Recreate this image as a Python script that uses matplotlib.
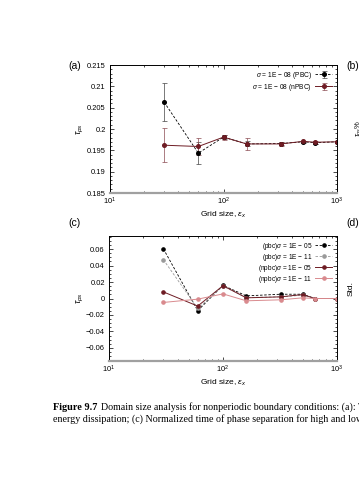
import matplotlib
matplotlib.use("Agg")
import matplotlib.pyplot as plt
from matplotlib.ticker import LogLocator, MultipleLocator, FixedLocator, NullFormatter
import numpy as np

plt.rcParams['font.family'] = ['Liberation Sans', 'DejaVu Sans']
plt.rcParams['mathtext.fontset'] = 'custom'
plt.rcParams['mathtext.rm'] = 'Liberation Sans'
plt.rcParams['mathtext.it'] = 'Liberation Sans:italic'

# ---- data ----
grid = [30, 60, 100, 160, 320, 500, 640, 1000]

# panel (a)
tau_pbc = [0.2063, 0.19435, 0.1981, 0.1965, 0.1966, 0.1970, 0.1968, 0.1970]
err_pbc = [0.0045, 0.0025, 0.0004, 0.0006, 0.0003, 0.0002, 0.0002, 0.0002]
tau_npbc = [0.1962, 0.1959, 0.1981, 0.1965, 0.1965, 0.1971, 0.1969, 0.1970]
err_npbc = [0.0040, 0.0020, 0.0006, 0.0015, 0.0004, 0.0002, 0.0003, 0.0002]

# panel (c)
pbc_e05 = [0.0604, -0.0148, 0.0160, 0.0032, 0.0052, 0.0052, 0.0, 0.0]
pbc_e11 = [0.0472, -0.0120, 0.0150, 0.0012, 0.0020, 0.0040, 0.0, 0.0]
npbc_e05 = [0.0080, -0.0092, 0.0156, 0.0008, 0.0020, 0.0048, 0.0, 0.0]
npbc_e11 = [-0.0048, -0.0008, 0.0056, -0.0028, -0.0016, 0.0008, 0.0, 0.0]

a_yticks = [0.185, 0.19, 0.195, 0.2, 0.205, 0.21, 0.215]
a_yticklabels = ['0.185', '0.19', '0.195', '0.2', '0.205', '0.21', '0.215']
c_yticks = [-0.06, -0.04, -0.02, 0, 0.02, 0.04, 0.06]
c_yticklabels = ['\u22120.06', '\u22120.04', '\u22120.02', '0', '0.02', '0.04', '0.06']

DARKRED = '#6e1c24'
PINK = '#d98a8e'
GRAY = '#9a9a9a'

W, H = 359, 480
fig = plt.figure(figsize=(W / 100, H / 100), dpi=100)


def px_axes(l, r, t, b):
    return fig.add_axes([l / W, 1 - b / H, (r - l) / W, (b - t) / H])


def style(ax):
    ax.set_xscale('log')
    ax.set_xlim(10, 1000)
    ax.tick_params(which='both', direction='in', top=True, right=True,
                   labelsize=5.4, pad=3)
    ax.tick_params(axis='x', pad=2)
    ax.tick_params(which='major', length=3, width=0.5)
    ax.tick_params(which='minor', length=1.6, width=0.5)
    ax.xaxis.set_major_locator(LogLocator(base=10, numticks=5))
    ax.xaxis.set_minor_locator(LogLocator(base=10, subs=np.arange(2, 10), numticks=20))
    ax.xaxis.set_minor_formatter(NullFormatter())
    for s in ['top', 'left', 'right']:
        ax.spines[s].set_linewidth(0.7)
    ax.spines['bottom'].set_color('#a0a0a0')
    ax.spines['bottom'].set_linewidth(1.6)
    ax.set_xlabel(r'Grid size, $\varepsilon_x$', fontsize=6, labelpad=2)


# ---- panel (a) ----
ax1 = px_axes(110, 337, 65, 193)
style(ax1)
ax1.set_ylim(0.185, 0.215)
ax1.yaxis.set_major_locator(FixedLocator(a_yticks))
ax1.set_yticklabels(a_yticklabels)
ax1.yaxis.set_minor_locator(MultipleLocator(0.001))
ax1.errorbar(grid, tau_pbc, yerr=err_pbc, color='black', ls=(0, (3, 2)), lw=0.6,
             marker='o', ms=2.6, capsize=1.8, elinewidth=0.5, capthick=0.5,
             ecolor='#444444', label=r'$\sigma$ = 1E $-$ 08 (PBC)')
ax1.errorbar(grid, tau_npbc, yerr=err_npbc, color=DARKRED, ls='-', lw=0.7,
             marker='o', ms=2.6, capsize=1.8, elinewidth=0.5, capthick=0.5,
             ecolor='#8a4a50', label=r'$\sigma$ = 1E $-$ 08 (nPBC)')
ax1.set_ylabel(r'$\tau_{ps}$', fontsize=6.5, labelpad=1)
ax1.legend(loc='upper right', fontsize=4.8, frameon=False, markerfirst=False,
           handlelength=2.6, borderaxespad=0.3, labelspacing=0.15,
           handletextpad=0.5)

# ---- panel (c) ----
ax2 = px_axes(109, 337, 236, 361)
style(ax2)
ax2.set_ylim(-0.076, 0.076)
ax2.yaxis.set_major_locator(FixedLocator(c_yticks))
ax2.set_yticklabels(c_yticklabels)
ax2.yaxis.set_minor_locator(MultipleLocator(0.005))
ax2.plot(grid, pbc_e05, color='black', ls=(0, (3, 2)), lw=0.6, marker='o', ms=2.3,
         label=r'(pbc)$\sigma$ = 1E $-$ 05')
ax2.plot(grid, pbc_e11, color=GRAY, ls=(0, (3, 2)), lw=0.6, marker='o', ms=2.3,
         label=r'(pbc)$\sigma$ = 1E $-$ 11')
ax2.plot(grid, npbc_e05, color=DARKRED, ls='-', lw=0.7, marker='o', ms=2.3,
         label=r'(npbc)$\sigma$ = 1E $-$ 05')
ax2.plot(grid, npbc_e11, color=PINK, ls='-', lw=0.7, marker='o', ms=2.3,
         label=r'(npbc)$\sigma$ = 1E $-$ 11')
ax2.set_ylabel(r'$\tau_{ps}$', fontsize=6.5, labelpad=0)
ax2.legend(loc='upper right', fontsize=4.7, frameon=False, markerfirst=False,
           handlelength=2.6, borderaxespad=0.3, labelspacing=0.0,
           handletextpad=0.5)

# ---- panel labels ----
fig.text(68 / W, 1 - 66 / H, '(a)', fontsize=7.5, va='center', ha='left')
fig.text(346 / W, 1 - 66 / H, '(b)', fontsize=7.5, va='center', ha='left')
fig.text(68 / W, 1 - 223 / H, '(c)', fontsize=7.5, va='center', ha='left')
fig.text(346 / W, 1 - 223 / H, '(d)', fontsize=7.5, va='center', ha='left')
fig.text(353 / W, 1 - 128 / H, r'$\tau_{ps}$%', fontsize=5.5, rotation=90,
         va='center', ha='left')
fig.text(348 / W, 1 - 289 / H, 'Std.', fontsize=6, rotation=90,
         va='center', ha='left')

# ---- caption ----
cap_font = ['Liberation Serif', 'DejaVu Serif']
fig.text(53 / W, 1 - 407 / H, 'Figure 9.7', fontsize=7.4, family=cap_font,
         fontweight='bold', va='center', ha='left')
fig.text(101 / W, 1 - 407 / H,
         'Domain size analysis for nonperiodic boundary conditions: (a): Time',
         fontsize=7.2, family=cap_font, va='center', ha='left')
fig.text(53 / W, 1 - 419 / H,
         'energy dissipation; (c) Normalized time of phase separation for high and low',
         fontsize=7.2, family=cap_font, va='center', ha='left')

fig.savefig('out.png', dpi=100)
